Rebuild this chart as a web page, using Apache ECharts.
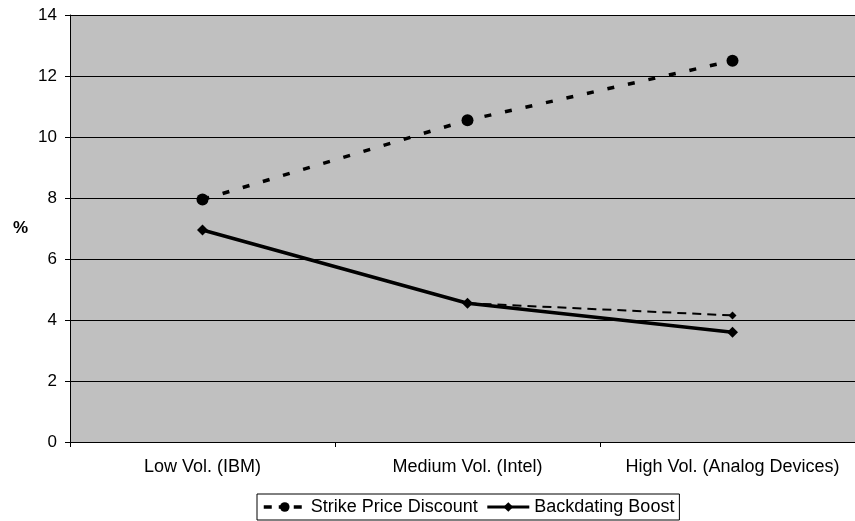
<!DOCTYPE html>
<html>
<head>
<meta charset="utf-8">
<script src="https://cdn.jsdelivr.net/npm/echarts@6/dist/echarts.min.js"></script>
<style>
html,body{margin:0;padding:0;background:#fff;}
#chart{width:855px;height:521px;}
</style>
</head>
<body>
<div id="chart"></div>
<script>
var categories = ['Low Vol. (IBM)', 'Medium Vol. (Intel)', 'High Vol. (Analog Devices)'];
var strikePriceDiscount = [7.95, 10.55, 12.5];
var backdatingBoost = [6.95, 4.55, 3.6];
var backdatingAlt = [null, 4.55, 4.15];
var yTicks = { min: 0, max: 14, interval: 2 };

var FONT = 'Liberation Sans';
var chart = echarts.init(document.getElementById('chart'));
chart.setOption({
  animation: false,
  textStyle: { fontFamily: FONT },
  grid: {
    left: 70, right: -10, top: 15, bottom: 79,
    show: true, backgroundColor: '#C0C0C0', borderWidth: 0,
    outerBoundsMode: 'none'
  },
  legend: {
    data: [
      { name: 'Strike Price Discount', lineStyle: { type: [8, 7], width: 3.5, color: '#000' } },
      { name: 'Backdating Boost', lineStyle: { type: 'solid', width: 3, color: '#000' } }
    ],
    left: 257, top: 494,
    itemWidth: 42, itemHeight: 12, itemGap: 8,
    padding: [4, 5, 4, 5],
    borderColor: '#000', borderWidth: 1, backgroundColor: '#fff',
    textStyle: { fontFamily: FONT, fontSize: 18, color: '#000' }
  },
  xAxis: {
    type: 'category',
    data: categories,
    boundaryGap: true,
    axisLine: { lineStyle: { color: '#000', width: 1 } },
    axisTick: { show: true, interval: 0, length: 5, lineStyle: { color: '#000' } },
    axisLabel: { interval: 0, color: '#000', fontSize: 18, fontFamily: FONT, margin: 16 },
    splitLine: { show: false }
  },
  yAxis: {
    type: 'value',
    min: yTicks.min, max: yTicks.max, interval: yTicks.interval,
    name: '%', nameLocation: 'middle', nameRotate: 0, nameGap: 42,
    nameTextStyle: { fontFamily: FONT, fontSize: 17, fontWeight: 'bold', color: '#000' },
    axisLine: { show: true, lineStyle: { color: '#000', width: 1 } },
    axisTick: { show: true, length: 5, lineStyle: { color: '#000' } },
    axisLabel: { color: '#000', fontSize: 17, fontFamily: FONT, margin: 13 },
    splitLine: { show: true, lineStyle: { color: '#000', width: 1 } }
  },
  series: [
    {
      name: 'Strike Price Discount',
      type: 'line',
      data: strikePriceDiscount,
      symbol: 'circle', symbolSize: 12,
      itemStyle: { color: '#000' },
      lineStyle: { color: '#000', width: 3.5, type: [7, 14] }
    },
    {
      name: 'Backdating Boost',
      type: 'line',
      data: backdatingBoost,
      symbol: 'diamond', symbolSize: 11,
      itemStyle: { color: '#000' },
      lineStyle: { color: '#000', width: 3.5, type: 'solid' },
      z: 3
    },
    {
      name: 'Backdating Boost (alt)',
      type: 'line',
      data: backdatingAlt,
      symbol: 'diamond', symbolSize: 8,
      itemStyle: { color: '#000' },
      lineStyle: { color: '#000', width: 2, type: [9, 6] },
      z: 2
    }
  ]
});
</script>
</body>
</html>
